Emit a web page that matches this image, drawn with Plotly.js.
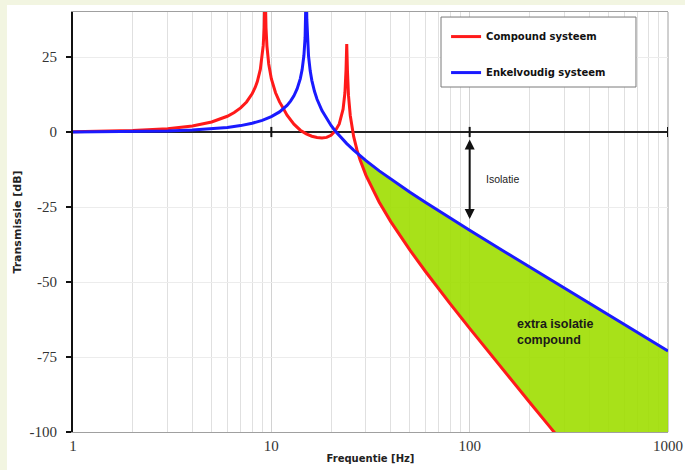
<!DOCTYPE html>
<html>
<head>
<meta charset="utf-8">
<script src="https://cdn.plot.ly/plotly-3.0.1.min.js"></script>
<style>html,body{margin:0;padding:0;background:#f2f5e1;}#chart{width:685px;height:470px;}</style>
</head>
<body>
<div id="chart"></div>
<script>
// ---- data ----
const freqBlue = [1,1.5,2,3,4,5,6,7,8,9,10,11,12,12.5,13,13.5,14,14.3,14.6,14.8,14.9,15,15.1,15.2,15.4,15.7,16,16.5,17,18,19,20,21,22,24,26,28,30,35,40,50,60,70,80,100,150,200,300,400,500,700,1000];
const dbBlue = [0.04,0.09,0.16,0.35,0.64,1.02,1.51,2.13,2.90,3.88,5.11,6.70,8.87,10.30,12.08,14.42,17.80,20.80,25.58,31.53,37.5,50,37.45,31.43,25.35,20.40,17.22,13.56,10.92,7.13,4.37,2.18,0.35,-1.22,-3.86,-6.04,-7.90,-9.54,-12.96,-15.72,-20.10,-23.52,-26.35,-28.77,-32.76,-39.91,-44.96,-52.02,-57.03,-60.91,-66.75,-72.96];

const freqRed = [1,1.5,2,3,4,5,6,6.5,7,7.5,8,8.3,8.5,8.8,9,9.1,9.2,9.3,9.4,9.5,9.7,10,10.5,11,11.5,12,13,14,15,16,17,18,19,20,21,22,23,23.5,23.8,24,24.2,24.5,25,26,27,28,30,35,40,50,60,70,80,100,120,150,200,250,300,400,600,1000];
const dbRed = [0.12,0.26,0.47,1.09,2.02,3.35,5.24,6.49,8.03,10.02,12.72,14.94,16.83,20.86,25.26,28.77,34.8,50,34.7,28.72,22.67,17.78,13.07,10.03,7.80,5.6,2.6,0.6,-0.6,-1.4,-1.8,-2.0,-1.8,-1.1,0.35,2.68,7.59,13.07,20.72,29.3,20.30,12.03,5.52,-1.46,-5.90,-9.29,-14.47,-23.42,-29.86,-39.39,-46.58,-52.42,-57.36,-65.46,-71.98,-79.88,-89.99,-97.80,-104.16,-114.2,-128.3,-146.05];

const seriesNames = ["Compound systeem", "Enkelvoudig systeem"];
const crossFreq = 27.5;   // where the two curves cross
const crossDb = -7.5;

const xTickVals = [1, 10, 100, 1000];
const xTickText = ["1", "10", "100", "1000"];
const xMinorVals = [2,3,4,5,6,7,8,9,20,30,40,50,60,70,80,90,200,300,400,500,600,700,800,900];
const yTickVals = [-100, -75, -50, -25, 0, 25];
const yTickText = ["-100", "-75", "-50", "-25", "0", "25"];
const zeroLineTicks = [10, 100, 1000];

// ---- fill polygon between the curves (built from the arrays) ----
const fillX = [crossFreq], fillY = [crossDb];
freqBlue.forEach((f, i) => { if (f > crossFreq) { fillX.push(f); fillY.push(dbBlue[i]); } });
const redHiF = [], redHiY = [];
freqRed.forEach((f, i) => { if (f > crossFreq) { redHiF.push(f); redHiY.push(dbRed[i]); } });
for (let i = redHiF.length - 1; i >= 0; i--) { fillX.push(redHiF[i]); fillY.push(redHiY[i]); }

const serif = '"Liberation Serif", "Times New Roman", "DejaVu Serif", serif';

const traces = [
  { x: fillX, y: fillY, type: 'scatter', mode: 'lines', fill: 'toself',
    fillcolor: 'rgba(158,222,0,0.9)', line: { width: 0, color: 'rgba(0,0,0,0)' },
    showlegend: false, hoverinfo: 'skip' },
  { x: freqRed, y: dbRed, type: 'scatter', mode: 'lines', name: seriesNames[0],
    legendgroup: 'a', line: { color: '#ff1a1a', width: 3 } },
  { x: freqBlue, y: dbBlue, type: 'scatter', mode: 'lines', name: seriesNames[1],
    legendgroup: 'b', line: { color: '#1a1aff', width: 3 } }
];

const shapes = [
  { type: 'rect', xref: 'paper', yref: 'paper', x0: -0.111, x1: 1.05, y0: -0.12, y1: 1.0167,
    fillcolor: '#ffffff', line: { width: 0 }, layer: 'below' },
  { type: 'line', xref: 'paper', yref: 'paper', x0: 1, x1: 1, y0: 0, y1: 1,
    line: { color: '#a0a0a0', width: 1 }, layer: 'below' },
  { type: 'rect', xref: 'paper', yref: 'paper', x0: 0.6185, x1: 0.9462, y0: 0.8214, y1: 0.988,
    fillcolor: '#ffffff', line: { color: '#7a7a7a', width: 1 }, layer: 'above' }
];
zeroLineTicks.forEach(v => shapes.push({
  type: 'line', xref: 'x', yref: 'y', x0: v, x1: v, y0: -1.7, y1: 1.7,
  line: { color: '#111111', width: 2 }, layer: 'above'
}));

const layout = {
  width: 685, height: 470,
  paper_bgcolor: '#f2f5e1', plot_bgcolor: '#ffffff',
  margin: { l: 73, r: 17, t: 12, b: 38, pad: 0 },
  showlegend: true,
  legend: {
    x: 0.627, y: 0.976, xanchor: 'left', yanchor: 'top',
    bgcolor: 'rgba(0,0,0,0)', borderwidth: 0,
    traceorder: 'grouped', tracegroupgap: 17,
    font: { family: 'DejaVu Sans', size: 10, color: '#111111', weight: 'bold' }
  },
  xaxis: {
    type: 'log', range: [0, 3],
    tickvals: xTickVals, ticktext: xTickText, ticks: '',
    showgrid: true, gridcolor: '#d2d2d2', gridwidth: 1,
    minor: { tickvals: xMinorVals, showgrid: true, gridcolor: '#e0e0e0', ticks: '' },
    showline: true, linecolor: '#a0a0a0', linewidth: 1, mirror: true,
    zeroline: false,
    tickfont: { family: serif, size: 15, color: '#333333' },
    title: { text: 'Frequentie [Hz]', standoff: 1,
      font: { family: 'DejaVu Sans', size: 10, color: '#222222', weight: 'bold' } }
  },
  yaxis: {
    range: [-100, 40], tickvals: yTickVals, ticktext: yTickText,
    ticks: 'outside', ticklen: 5, tickwidth: 2, tickcolor: '#111111',
    showgrid: true, gridcolor: '#ececec', gridwidth: 1,
    showline: true, linecolor: '#111111', linewidth: 2,
    zeroline: true, zerolinecolor: '#222222', zerolinewidth: 2,
    ticklabelstandoff: 6,
    tickfont: { family: serif, size: 15, color: '#333333' },
    title: { text: 'Transmissie [dB]', standoff: 6,
      font: { family: 'DejaVu Sans', size: 11, color: '#222222', weight: 'bold' } }
  },
  shapes: shapes,
  annotations: [
    { xref: 'x', yref: 'y', x: 2, y: -29, axref: 'x', ayref: 'y', ax: 2, ay: -2,
      text: '', showarrow: true, arrowhead: 2, arrowside: 'end+start', arrowsize: 1,
      arrowwidth: 2, arrowcolor: '#111111', standoff: 0, startstandoff: 0 },
    { xref: 'x', yref: 'y', x: 2.073, y: -15.7, xanchor: 'left', yanchor: 'middle',
      text: 'Isolatie', showarrow: false,
      font: { family: 'Liberation Sans', size: 10.5, color: '#222222' } },
    { xref: 'x', yref: 'y', x: 2.229, y: -66.8, xanchor: 'left', yanchor: 'middle', align: 'left',
      text: 'extra isolatie<br>compound', showarrow: false,
      font: { family: 'Liberation Sans', size: 12.5, color: '#1a1a1a', weight: 'bold' } }
  ]
};

Plotly.newPlot('chart', traces, layout, { displayModeBar: false, staticPlot: true });
</script>
</body>
</html>
